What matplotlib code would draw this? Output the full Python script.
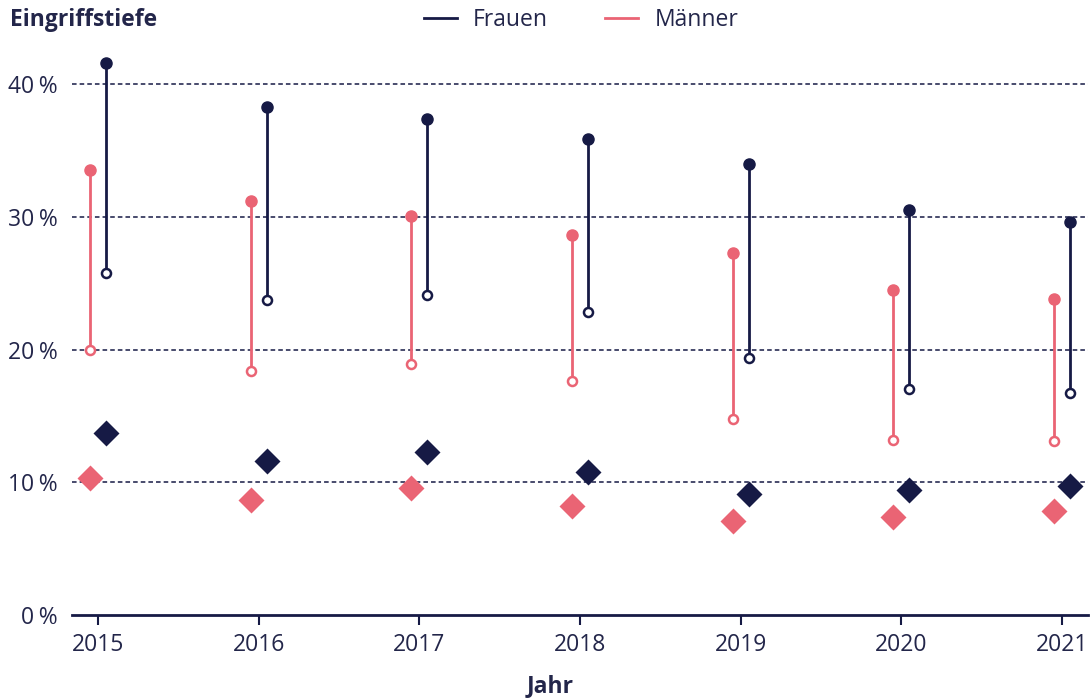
import numpy as np
import matplotlib.pyplot as plt

years = [2015, 2016, 2017, 2018, 2019, 2020, 2021]

frauen_hoch = [41.6, 38.3, 37.4, 35.9, 34.0, 30.5, 29.6]
frauen_tief = [25.8, 23.7, 24.1, 22.8, 19.4, 17.0, 16.7]
frauen_raute = [13.7, 11.6, 12.3, 10.8, 9.1, 9.4, 9.7]

maenner_hoch = [33.5, 31.2, 30.1, 28.6, 27.3, 24.5, 23.8]
maenner_tief = [20.0, 18.4, 18.9, 17.6, 14.8, 13.2, 13.1]
maenner_raute = [10.3, 8.7, 9.6, 8.2, 7.1, 7.4, 7.8]

y_ticks = [0, 10, 20, 30, 40]

navy = '#161a45'
pink = '#ea6474'
text_col = '#23264a'

plt.rcParams['font.family'] = ['Open Sans', 'DejaVu Sans']


def draw_series(ax, x, hoch, tief, raute, color, label):
    ax.vlines(x, tief, hoch, color=color, lw=2.0, zorder=3)
    ax.plot(x, hoch, 'o', color=color, ms=8, zorder=4)
    ax.plot(x, tief, 'o', mfc='white', mec=color, mew=1.8, ms=6.5, zorder=4)
    ax.plot(x, raute, 'D', color=color, ms=13, mec='none', zorder=4)
    # legend handle
    ax.plot([], [], color=color, lw=2.0, label=label)


fig = plt.figure(figsize=(10.9, 6.98), dpi=100)
ax = fig.add_axes([0.066, 0.119, 0.932, 0.809])

x = np.array(years, dtype=float)
draw_series(ax, x + 0.05, frauen_hoch, frauen_tief, frauen_raute, navy, 'Frauen')
draw_series(ax, x - 0.05, maenner_hoch, maenner_tief, maenner_raute, pink, 'Männer')

for t in y_ticks[1:]:
    ax.axhline(t, color=navy, lw=1.1, ls=(0, (3, 2)), zorder=1)

ax.set_xlim(2015 - 0.162, 2021 + 0.16)
ax.set_ylim(0, 42.56)
ax.set_xticks(years)
ax.set_xticklabels([str(y) for y in years])
ax.set_yticks(y_ticks)
ax.set_yticklabels([f'{t}\u202f%' for t in y_ticks])

for s in ['top', 'right', 'left']:
    ax.spines[s].set_visible(False)
ax.spines['bottom'].set_color(navy)
ax.spines['bottom'].set_linewidth(2)
ax.tick_params(axis='x', length=7, width=1.5, color=navy, labelsize=16.5,
               labelcolor=text_col, pad=6)
ax.tick_params(axis='y', length=0, labelsize=16.5, labelcolor=text_col, pad=10)

fig.text(0.505, 0.017, 'Jahr', fontsize=16.5, fontweight='bold',
         color=text_col, ha='center', va='center')
fig.text(0.009, 0.971, 'Eingriffstiefe', fontsize=16.5, fontweight='bold',
         color=text_col, ha='left', va='center')

fig.legend(loc='center', bbox_to_anchor=(0.533, 0.971), ncol=2, frameon=False,
           fontsize=16.5, labelcolor=text_col, handlelength=1.45,
           handletextpad=0.7, columnspacing=2.5)

fig.savefig('out.png', dpi=100)
